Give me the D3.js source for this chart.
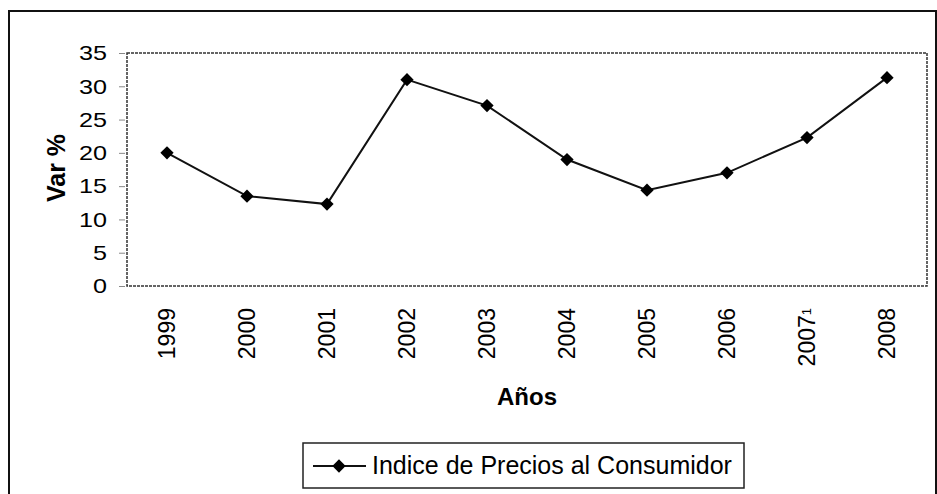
<!DOCTYPE html>
<html>
<head>
<meta charset="utf-8"/>
<script src="https://d3js.org/d3.v7.min.js"></script>
<style type="text/css">
body { margin: 0; background: #fff; }
text { font-family: Arial, "Liberation Sans", sans-serif; fill: #000; }
.frame { fill: none; stroke: #111; stroke-width: 2; }
.plotbox { fill: none; stroke: #333; stroke-width: 1.5; stroke-dasharray: 3,1; }
.serie { fill: none; stroke: #111; stroke-width: 2; }
</style>
</head>
<body>
<script>
// Data
var years = ["1999", "2000", "2001", "2002", "2003", "2004", "2005", "2006", "2007", "2008"];
var ipc = [20.0, 13.5, 12.3, 31.0, 27.1, 19.0, 14.4, 17.0, 22.3, 31.3];
var yTicks = [0, 5, 10, 15, 20, 25, 30, 35];
var seriesName = "Indice de Precios al Consumidor";

var width = 937,
    height = 494;

var plot = {left: 127, top: 53, right: 927, bottom: 286};

var svg = d3.select("body")
            .append("svg")
            .attr("width", width)
            .attr("height", height);

// outer chart frame (bottom edge runs off the picture)
svg.append("rect")
   .attr("class", "frame")
   .attr("x", 9)
   .attr("y", 11)
   .attr("width", 927)
   .attr("height", 520);

var x = d3.scaleBand()
          .domain(years)
          .range([plot.left, plot.right]);

var y = d3.scaleLinear()
          .domain([0, 35])
          .range([plot.bottom, plot.top]);

// y axis
var yAxis = svg.append("g")
               .attr("transform", "translate(" + plot.left + ",0)")
               .call(d3.axisLeft(y).tickValues(yTicks).tickSize(8).tickPadding(12));
yAxis.select(".domain").remove();
yAxis.selectAll("line").attr("stroke", "#888").attr("x2", -8).attr("x1", -2);
yAxis.selectAll("text")
     .style("font-size", "21px")
     .style("font-family", "Arial, 'Liberation Sans', sans-serif")
     .attr("textLength", function(d) { return String(d).length * 14; })
     .attr("lengthAdjust", "spacingAndGlyphs");

// plot area border
svg.append("rect")
   .attr("class", "plotbox")
   .attr("x", plot.left)
   .attr("y", plot.top)
   .attr("width", plot.right - plot.left)
   .attr("height", plot.bottom - plot.top);

// x tick labels, rotated
var xl = svg.append("g")
            .selectAll("text")
            .data(years)
            .enter()
            .append("text")
            .attr("transform", function(d) {
                return "translate(" + (x(d) + x.bandwidth() / 2) + ",308) rotate(-90)";
            })
            .attr("dy", "0.36em")
            .attr("text-anchor", "end")
            .style("font-size", "23px");
xl.append("tspan")
  .text(function(d) { return d; });
xl.filter(function(d) { return d === "2007"; })
  .append("tspan")
  .attr("dy", "-0.35em")
  .style("font-size", "13px")
  .text("1");

// series line and markers
var line = d3.line()
             .x(function(d, i) { return x(years[i]) + x.bandwidth() / 2; })
             .y(function(d) { return y(d); });

svg.append("path")
   .datum(ipc)
   .attr("class", "serie")
   .attr("d", line);

var diamond = d3.symbol().type(d3.symbolSquare).size(88);

svg.append("g")
   .selectAll("path")
   .data(ipc)
   .enter()
   .append("path")
   .attr("d", diamond)
   .attr("transform", function(d, i) {
       return "translate(" + (x(years[i]) + x.bandwidth() / 2) + "," + y(d) + ") rotate(45)";
   })
   .attr("fill", "#000");

// axis titles
svg.append("text")
   .attr("x", 527)
   .attr("y", 405)
   .attr("text-anchor", "middle")
   .style("font-size", "24px")
   .style("font-weight", "bold")
   .text("Años");

svg.append("text")
   .attr("transform", "translate(65,168) rotate(-90)")
   .attr("text-anchor", "middle")
   .style("font-size", "25px")
   .style("font-weight", "bold")
   .text("Var %");

// legend
var legend = svg.append("g");
legend.append("rect")
      .attr("x", 303)
      .attr("y", 443)
      .attr("width", 441)
      .attr("height", 45)
      .attr("fill", "#fff")
      .attr("stroke", "#222")
      .attr("stroke-width", 1.5);
legend.append("line")
      .attr("x1", 313)
      .attr("x2", 366)
      .attr("y1", 466)
      .attr("y2", 466)
      .attr("stroke", "#111")
      .attr("stroke-width", 2);
legend.append("path")
      .attr("d", diamond)
      .attr("transform", "translate(339,466) rotate(45)")
      .attr("fill", "#000");
legend.append("text")
      .attr("x", 372)
      .attr("y", 474)
      .style("font-size", "25px")
      .text(seriesName);
</script>
</body>
</html>
